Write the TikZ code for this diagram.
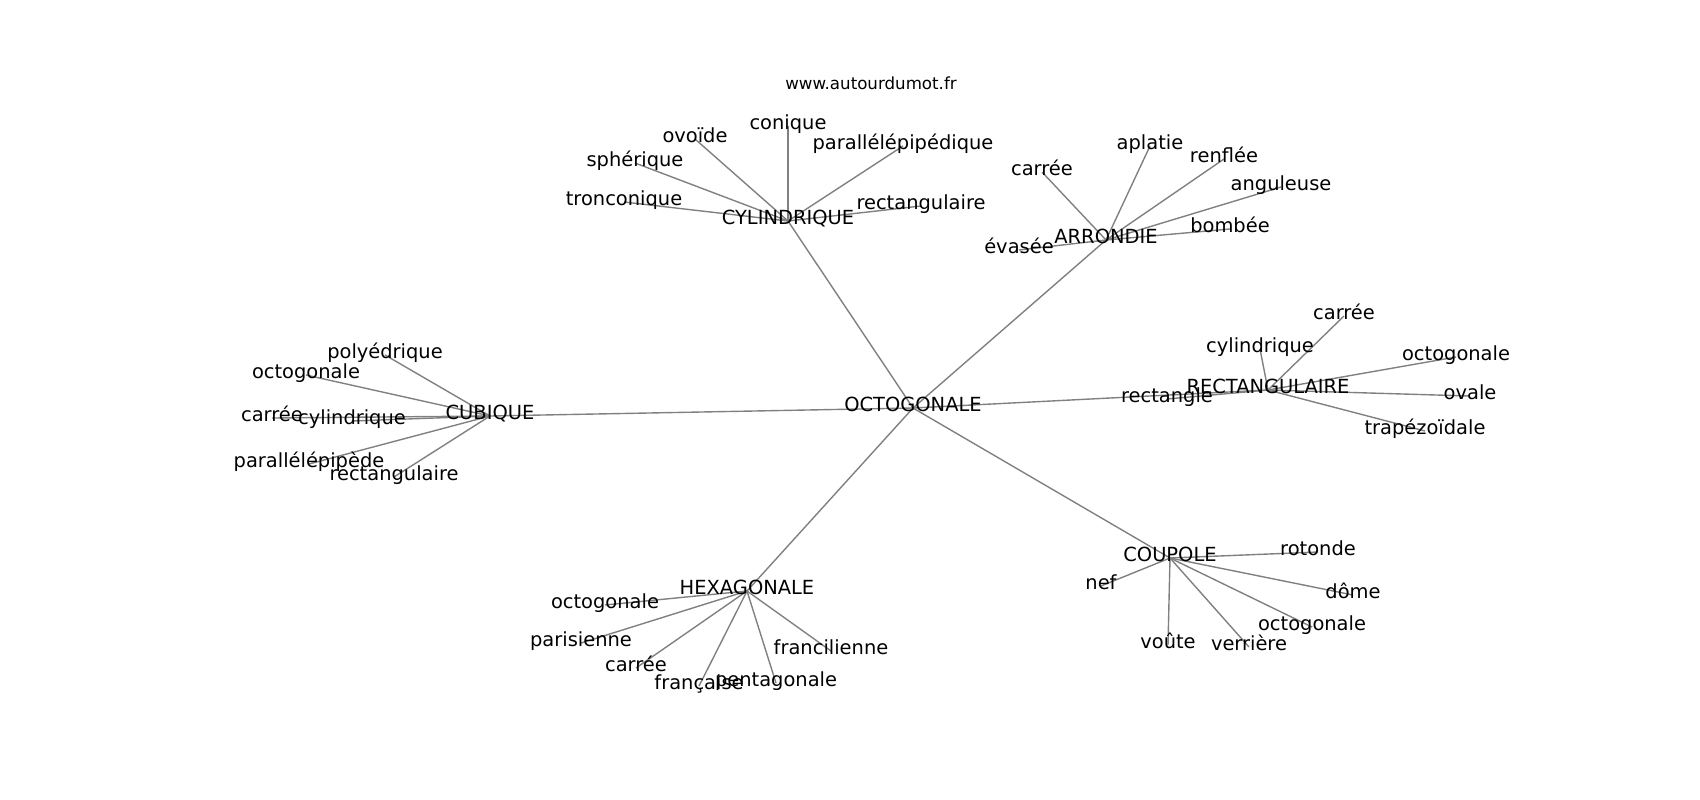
\documentclass[tikz,border=0pt]{standalone}
\usepackage{fontspec}
\setmainfont{DejaVu Sans}
\usetikzlibrary{backgrounds}
\begin{document}
\begin{tikzpicture}[x=0.72bp,y=-0.72bp,
  lbl/.style={font=\fontsize{14bp}{16bp}\selectfont, inner sep=0pt, text height=0.76em, text depth=0.24em},
  ttl/.style={font=\fontsize{12bp}{14bp}\selectfont, inner sep=0pt, text height=0.76em, text depth=0.24em},
  edge/.style={draw=black!50, line width=1bp}]
\useasboundingbox (0,0) rectangle (1700,800);
\begin{scope}[yshift=-3*0.72bp]
\node[ttl] (title) at (871,83) {www.autourdumot.fr};
% hubs
\node[lbl] (OCT) at (913,405) {OCTOGONALE};
\node[lbl] (CYL) at (788,218) {CYLINDRIQUE};
\node[lbl] (ARR) at (1106,237) {ARRONDIE};
\node[lbl] (REC) at (1268,387) {RECTANGULAIRE};
\node[lbl] (CUB) at (490,413) {CUBIQUE};
\node[lbl] (HEX) at (747,588) {HEXAGONALE};
\node[lbl] (COU) at (1170,555) {COUPOLE};
% cylindrique
\node[lbl] (cylcon) at (788,123) {conique};
\node[lbl] (cylovo) at (695,136) {ovoïde};
\node[lbl] (cylsph) at (635,160) {sphérique};
\node[lbl] (cyltro) at (624,199) {tronconique};
\node[lbl] (cylpar) at (903,143) {parallélépipédique};
\node[lbl] (cylrec) at (921,203) {rectangulaire};
% arrondie
\node[lbl] (arrcar) at (1042,169) {carrée};
\node[lbl] (arrapl) at (1150,143) {aplatie};
\node[lbl] (arrren) at (1224,156) {renflée};
\node[lbl] (arrang) at (1281,184) {anguleuse};
\node[lbl] (arrbom) at (1230,226) {bombée};
\node[lbl] (arreva) at (1019,247) {évasée};
% rectangulaire
\node[lbl] (reccar) at (1344,313) {carrée};
\node[lbl] (reccyl) at (1260,346) {cylindrique};
\node[lbl] (recoct) at (1456,354) {octogonale};
\node[lbl] (recova) at (1470,393) {ovale};
\node[lbl] (rectra) at (1425,428) {trapézoïdale};
\node[lbl] (recrec) at (1167,396) {rectangle};
% cubique
\node[lbl] (cubpol) at (385,352) {polyédrique};
\node[lbl] (cuboct) at (306,372) {octogonale};
\node[lbl] (cubcar) at (272,415) {carrée};
\node[lbl] (cubcyl) at (352,418) {cylindrique};
\node[lbl] (cubpar) at (309,461) {parallélépipède};
\node[lbl] (cubrec) at (394,474) {rectangulaire};
% hexagonale
\node[lbl] (hexoct) at (605,602) {octogonale};
\node[lbl] (hexpar) at (581,640) {parisienne};
\node[lbl] (hexcar) at (636,665) {carrée};
\node[lbl] (hexfra) at (699,683) {française};
\node[lbl] (hexpen) at (776,680) {pentagonale};
\node[lbl] (hexfri) at (831,648) {francilienne};
% coupole
\node[lbl] (courot) at (1318,549) {rotonde};
\node[lbl] (counef) at (1101,583) {nef};
\node[lbl] (coudom) at (1353,592) {dôme};
\node[lbl] (couoct) at (1312,624) {octogonale};
\node[lbl] (couvou) at (1168,642) {voûte};
\node[lbl] (couver) at (1249,644) {verrière};
\end{scope}
\begin{pgfonlayer}{background}
\fill[white] (0,0) rectangle (1700,800);
\foreach \h in {CYL,ARR,REC,CUB,HEX,COU}
  \draw[edge] (OCT.center) -- (\h.center);
\foreach \l in {cylcon,cylovo,cylsph,cyltro,cylpar,cylrec}
  \draw[edge] (CYL.center) -- (\l.center);
\foreach \l in {arrcar,arrapl,arrren,arrang,arrbom,arreva}
  \draw[edge] (ARR.center) -- (\l.center);
\foreach \l in {reccar,reccyl,recoct,recova,rectra,recrec}
  \draw[edge] (REC.center) -- (\l.center);
\foreach \l in {cubpol,cuboct,cubcar,cubcyl,cubpar,cubrec}
  \draw[edge] (CUB.center) -- (\l.center);
\foreach \l in {hexoct,hexpar,hexcar,hexfra,hexpen,hexfri}
  \draw[edge] (HEX.center) -- (\l.center);
\foreach \l in {courot,counef,coudom,couoct,couvou,couver}
  \draw[edge] (COU.center) -- (\l.center);
\end{pgfonlayer}
\end{tikzpicture}
\end{document}
